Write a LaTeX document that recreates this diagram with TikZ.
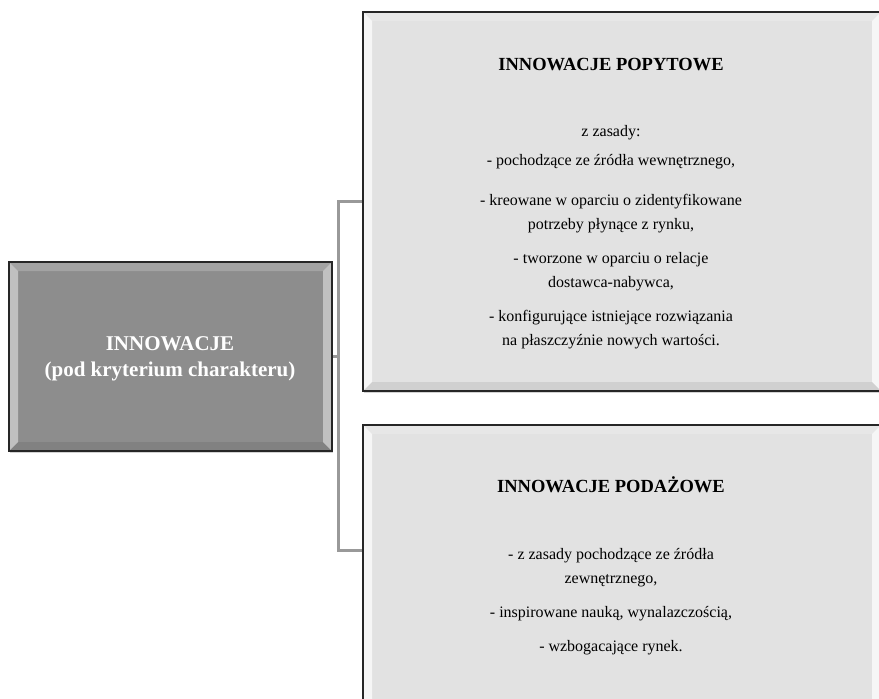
\documentclass[tikz,border=0pt]{standalone}
\usepackage{fontspec}
\setmainfont{Liberation Serif}
\usetikzlibrary{positioning,shadows}

\definecolor{rootgray}{HTML}{8D8D8D}
\definecolor{catgray}{HTML}{E2E2E2}
\definecolor{linkgray}{HTML}{999999}

\tikzset{
  bevel/.style={path picture={
    \fill[white,opacity=#1] (path picture bounding box.north west) -- ++(9pt,-9pt)
      -- ([shift={(9pt,9pt)}]path picture bounding box.south west)
      -- (path picture bounding box.south west) -- cycle;
    \fill[white,opacity=#1] (path picture bounding box.north east) -- ++(-9pt,-9pt)
      -- ([shift={(-9pt,9pt)}]path picture bounding box.south east)
      -- (path picture bounding box.south east) -- cycle;
    \fill[white,opacity=0.2] (path picture bounding box.north west) -- ++(9pt,-9pt)
      -- ([shift={(-9pt,-9pt)}]path picture bounding box.north east)
      -- (path picture bounding box.north east) -- cycle;
    \fill[black,opacity=0.08] (path picture bounding box.south west) -- ++(9pt,9pt)
      -- ([shift={(-9pt,9pt)}]path picture bounding box.south east)
      -- (path picture bounding box.south east) -- cycle;
  }},
  rootbox/.style={draw=black!85, line width=1.5pt, fill=rootgray, bevel=0.45,
    drop shadow={shadow xshift=1pt, shadow yshift=-2pt, opacity=0.35},
    minimum width=323pt, minimum height=189pt, inner sep=0pt},
  catbox/.style={draw=black!85, line width=1.5pt, fill=catgray, bevel=0.7,
    drop shadow={shadow xshift=1pt, shadow yshift=-2pt, opacity=0.35},
    minimum width=518pt, inner sep=0pt},
  link/.style={draw=linkgray, line width=3pt},
  headtext/.style={inner sep=0pt, font=\bfseries\fontsize{18.5}{22}\selectfont},
  bodytext/.style={inner sep=0pt, align=center, font=\fontsize{16}{24}\selectfont},
  roottext/.style={inner sep=0pt, align=center, text=white,
    font=\bfseries\fontsize{21}{26}\selectfont}
}

\begin{document}
\begin{tikzpicture}[x=1pt,y=-1pt]
    \useasboundingbox (0,0) rectangle (879,699);
    \clip (0,0) rectangle (879,699);
    %ramki
    \node[catbox, minimum height=379pt] (popyt) at (622,201.5) {};
    \node[catbox, minimum height=290pt] (podaz) at (622,570) {};
    \node[rootbox] (innow) at (170.5,356.5) {};
    %linie
    \coordinate (hub) at ([xshift=6pt]innow.east);
    \coordinate (podazin) at ([yshift=20pt]podaz.west);
    \draw[link] (innow.east) -- (hub) |- (popyt.west);
    \draw[link] (innow.east) -- (hub) |- (podazin);
    %teksty
    \node[roottext, anchor=north] (innowtxt) at (170,336.5)
        {INNOWACJE\\(pod kryterium charakteru)};
    \node[headtext, anchor=base] (popythead) at (611,70) {INNOWACJE POPYTOWE};
    \node[bodytext, anchor=north] (popytbody) at (611,125)
        {z zasady:\\[5pt]
         - pochodzące ze źródła wewnętrznego,\\[16pt]
         - kreowane w oparciu o zidentyfikowane\\
         potrzeby płynące z rynku,\\[10pt]
         - tworzone w oparciu o relacje\\
         dostawca-nabywca,\\[10pt]
         - konfigurujące istniejące rozwiązania\\
         na płaszczyźnie nowych wartości.};
    \node[headtext, anchor=base] (podazhead) at (611,492) {INNOWACJE PODAŻOWE};
    \node[bodytext, anchor=north] (podazbody) at (611,548)
        {- z zasady pochodzące ze źródła\\
         zewnętrznego,\\[10pt]
         - inspirowane nauką, wynalazczością,\\[10pt]
         - wzbogacające rynek.};
\end{tikzpicture}
\end{document}
